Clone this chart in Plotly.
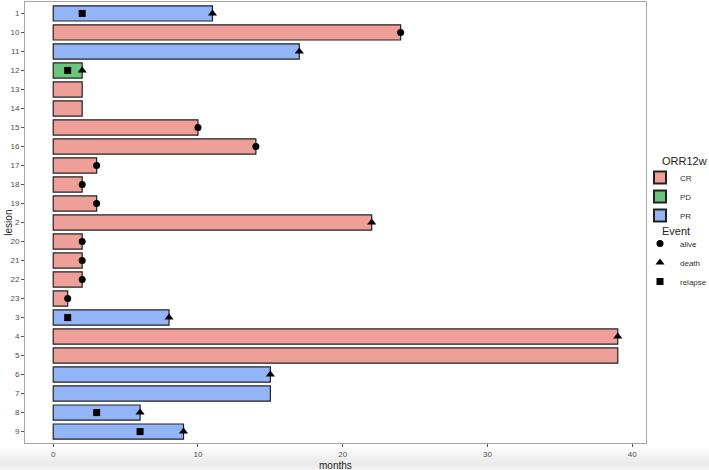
import plotly.graph_objects as go

lesions = ["1", "10", "11", "12", "13", "14", "15", "16", "17", "18", "19", "2",
           "20", "21", "22", "23", "3", "4", "5", "6", "7", "8", "9"]
months = [11, 24, 17, 2, 2, 2, 10, 14, 3, 2, 3, 22, 2, 2, 2, 1, 8, 39, 39, 15, 15, 6, 9]
orr = ["PR", "CR", "PR", "PD", "CR", "CR", "CR", "CR", "CR", "CR", "CR", "CR",
       "CR", "CR", "CR", "CR", "PR", "CR", "CR", "PR", "PR", "PR", "PR"]

event_lesion = ["1", "1", "10", "11", "12", "12", "15", "16", "17", "18", "19", "2",
                "20", "21", "22", "23", "3", "3", "4", "6", "8", "8", "9", "9"]
event_time = [2, 11, 24, 17, 1, 2, 10, 14, 3, 2, 3, 22,
              2, 2, 2, 1, 1, 8, 39, 15, 3, 6, 6, 9]
event_type = ["relapse", "death", "alive", "death", "relapse", "death", "alive", "alive",
              "alive", "alive", "alive", "death", "alive", "alive", "alive", "alive",
              "relapse", "death", "death", "death", "relapse", "death", "relapse", "death"]

orr_levels = ["CR", "PD", "PR"]
orr_colors = {"CR": "#EE9F98", "PD": "#6CC57C", "PR": "#93B4F7"}
event_levels = ["alive", "death", "relapse"]
event_symbols = {"alive": "circle", "death": "triangle-up", "relapse": "square"}
event_sizes = {"alive": 7, "death": 8, "relapse": 7}

fig = go.Figure()
for lev in orr_levels:
    ys = [l for l, o in zip(lesions, orr) if o == lev]
    xs = [m for m, o in zip(months, orr) if o == lev]
    fig.add_trace(go.Bar(
        y=ys, x=xs, base=0, orientation="h", name=lev, width=0.8,
        marker=dict(color=orr_colors[lev], line=dict(color="#222222", width=1.2)),
        legend="legend",
    ))

for ev in event_levels:
    ys = [l for l, e in zip(event_lesion, event_type) if e == ev]
    xs = [t for t, e in zip(event_time, event_type) if e == ev]
    fig.add_trace(go.Scatter(
        y=ys, x=xs, mode="markers", name=ev,
        marker=dict(symbol=event_symbols[ev], color="black", size=event_sizes[ev]),
        legend="legend2",
    ))

# faint shadow band at the bottom of the picture
grays = ["#fdfdfd", "#fafafa", "#f7f7f7", "#f4f4f4", "#f1f1f1", "#eeeeee",
         "#ececec", "#ebebeb", "#ececec", "#efefef", "#f3f3f3"]
shapes = []
top = 447
for i, g in enumerate(grays):
    y0 = top + i * 2.1
    y1 = y0 + 2.2
    shapes.append(dict(type="rect", xref="paper", yref="paper",
                       x0=-0.05, x1=1.15,
                       y0=(443 - y1) / 441, y1=(443 - y0) / 441,
                       fillcolor=g, line=dict(width=0), layer="below"))

W, H = 709, 470
fig.update_layout(
    width=W, height=H,
    margin=dict(l=25, r=63, t=2, b=27, autoexpand=False),
    plot_bgcolor="white", paper_bgcolor="white",
    font=dict(family="Liberation Sans, Arial, sans-serif", color="#4d4d4d", size=8),
    barmode="overlay",
    showlegend=True,
    shapes=shapes,
    xaxis=dict(range=[-1.95, 40.95], tickvals=[0, 10, 20, 30, 40],
               showgrid=False, zeroline=False, automargin=False,
               showline=True, mirror=True, linecolor="#a6a6a6", linewidth=1,
               ticks="outside", ticklen=3, tickcolor="#555555",
               tickfont=dict(size=8, color="#4d4d4d")),
    yaxis=dict(type="category", categoryorder="array", categoryarray=lesions,
               range=[len(lesions) - 0.4, -0.6],
               showgrid=False, zeroline=False, automargin=False,
               showline=True, mirror=True, linecolor="#a6a6a6", linewidth=1,
               ticks="outside", ticklen=3, tickcolor="#555555",
               tickfont=dict(size=8, color="#4d4d4d")),
    legend=dict(xref="container", yref="container",
                x=640 / W, xanchor="left", y=1 - 163 / H, yanchor="top",
                font=dict(size=8, color="#333333"), tracegroupgap=0,
                itemsizing="constant", bgcolor="rgba(0,0,0,0)"),
    legend2=dict(xref="container", yref="container",
                 x=640 / W, xanchor="left", y=1 - 229 / H, yanchor="top",
                 font=dict(size=8, color="#333333"), tracegroupgap=0,
                 bgcolor="rgba(0,0,0,0)"),
    annotations=[
        dict(text="months", xref="paper", yref="paper", x=0.5, y=-0.035,
             xanchor="center", yanchor="top", showarrow=False,
             font=dict(size=10, color="#222222")),
        dict(text="lesion", xref="paper", yref="paper", x=-0.04, y=0.5,
             xanchor="center", yanchor="middle", textangle=-90, showarrow=False,
             xshift=8, font=dict(size=10, color="#222222")),
        dict(text="ORR12w", xref="paper", yref="paper",
             x=(660 - 25) / 621, y=(443 - 161) / 441,
             xanchor="left", yanchor="middle", showarrow=False,
             font=dict(size=11, color="#222222")),
        dict(text="Event", xref="paper", yref="paper",
             x=(660 - 25) / 621, y=(443 - 231) / 441,
             xanchor="left", yanchor="middle", showarrow=False,
             font=dict(size=11, color="#222222")),
    ],
)

fig.write_html("out.html",
               config={"displayModeBar": False},
               post_script="document.body.style.margin='0';document.body.style.overflow='hidden';")
